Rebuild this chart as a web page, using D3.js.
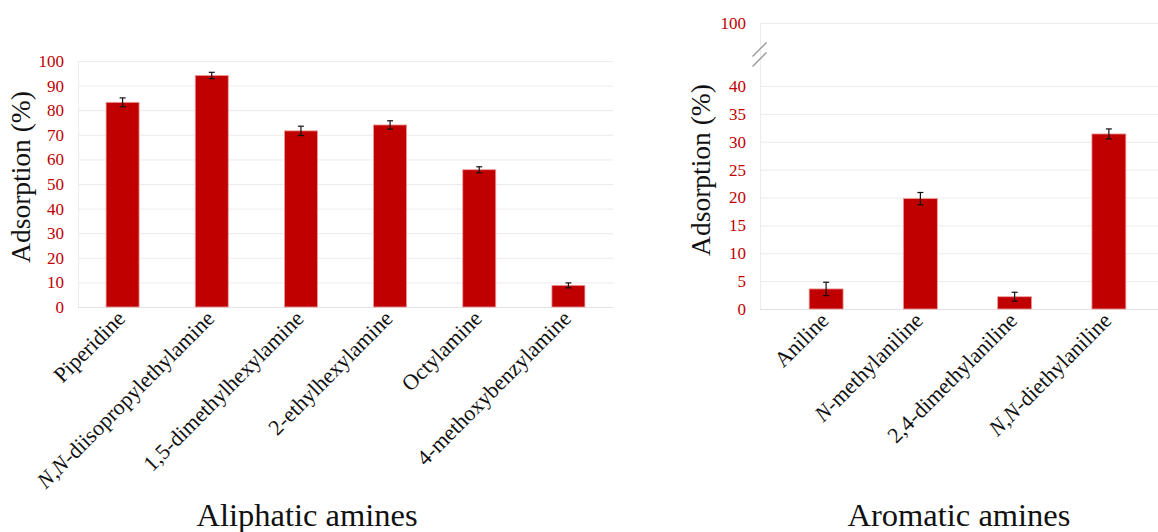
<!DOCTYPE html>
<html>
<head>
<meta charset="utf-8">
<script src="https://cdn.jsdelivr.net/npm/d3@7"></script>
<style>
  body { margin: 0; background: #fff; }
  svg { font-family: "Liberation Serif", "DejaVu Serif", serif; }
</style>
</head>
<body>
<script>
// aliphatic amines (left panel)
const aliphNames = ["Piperidine", "N,N-diisopropylethylamine", "1,5-dimethylhexylamine",
  "2-ethylhexylamine", "Octylamine", "4-methoxybenzylamine"];
const aliphValues = [83.2, 94.1, 71.6, 74.0, 55.8, 8.8];
const aliphErrors = [1.8, 1.3, 1.9, 1.7, 1.2, 1.0];
const aliphTicks = [0, 10, 20, 30, 40, 50, 60, 70, 80, 90, 100];

// aromatic amines (right panel, broken axis 40..100)
const aromNames = ["Aniline", "N-methylaniline", "2,4-dimethylaniline", "N,N-diethylaniline"];
const aromValues = [3.6, 19.8, 2.2, 31.4];
const aromErrors = [1.2, 1.1, 0.8, 0.9];
const aromTicks = [0, 5, 10, 15, 20, 25, 30, 35, 40, 100];

const W = 1158, H = 532;
const red = "#c00000", grid = "#ebebeb";

const svg = d3.select("body").append("svg")
  .attr("width", W).attr("height", H);

// label with italic N / N,N prefix
function label(sel, name) {
  const m = name.match(/^(N,N|N)(-.*)$/);
  if (m) {
    sel.append("tspan").attr("font-style", "italic").text(m[1]);
    sel.append("tspan").text(m[2]);
  } else sel.text(name);
}

function panel(o) {
  const g = svg.append("g");
  const x = d3.scaleBand().domain(o.names).range(o.xr).paddingInner(o.pi).paddingOuter(o.po);
  const y = d3.scaleLinear().domain(o.ydom).range(o.yr);

  // grid
  g.selectAll("line.grid").data(o.ticks).join("line")
    .attr("x1", o.gx[0]).attr("x2", o.gx[1])
    .attr("y1", d => y(d) + 0.5).attr("y2", d => y(d) + 0.5)
    .attr("stroke", d => d === 0 ? "#e2e2e2" : grid).attr("stroke-width", 1);
  // vertical axis line
  g.append("line")
    .attr("x1", o.gx[0] + 0.5).attr("x2", o.gx[0] + 0.5)
    .attr("y1", y(o.ydom[o.ydom.length - 1])).attr("y2", y(0))
    .attr("stroke", "#ececec");

  // tick labels
  g.selectAll("text.tick").data(o.ticks).join("text")
    .attr("x", o.gx[0] - 14).attr("y", d => y(d))
    .attr("dy", "0.35em").attr("text-anchor", "end")
    .attr("font-size", 17).attr("fill", red)
    .text(d => d);

  // bars
  g.selectAll("rect.bar").data(o.values).join("rect")
    .attr("x", (d, i) => x(o.names[i]))
    .attr("width", x.bandwidth())
    .attr("y", d => y(d))
    .attr("height", d => y(0) - y(d))
    .attr("fill", red).attr("stroke", "#ee9a9a").attr("stroke-width", 0.8);

  // error bars
  const eb = g.selectAll("g.err").data(o.values).join("g")
    .attr("transform", (d, i) => `translate(${x(o.names[i]) + x.bandwidth() / 2},0)`);
  eb.append("line").attr("y1", (d, i) => y(d + o.errors[i])).attr("y2", (d, i) => y(d - o.errors[i]))
    .attr("stroke", "#111").attr("stroke-width", 1.2);
  eb.append("line").attr("x1", -3).attr("x2", 3)
    .attr("y1", (d, i) => y(d + o.errors[i])).attr("y2", (d, i) => y(d + o.errors[i]))
    .attr("stroke", "#111").attr("stroke-width", 1.2);
  eb.append("line").attr("x1", -3).attr("x2", 3)
    .attr("y1", (d, i) => y(d - o.errors[i])).attr("y2", (d, i) => y(d - o.errors[i]))
    .attr("stroke", "#111").attr("stroke-width", 1.2);

  // category labels
  g.selectAll("text.cat").data(o.names).join("text")
    .attr("transform", d => `translate(${x(d) + x.bandwidth() / 2 - 7},${y(0) + 2}) rotate(-45)`)
    .attr("text-anchor", "end").attr("dy", "0.7em")
    .attr("font-size", 22).attr("fill", "#111")
    .each(function (d) { label(d3.select(this), d); });

  // y title
  g.append("text")
    .attr("transform", `translate(${o.ytx},${o.yty}) rotate(-90)`)
    .attr("text-anchor", "middle").attr("font-size", 27.5).attr("fill", "#111")
    .text("Adsorption (%)");

  // group title
  g.append("text")
    .attr("x", o.tx).attr("y", 526).attr("text-anchor", "middle")
    .attr("font-size", 32.5).attr("fill", "#111")
    .text(o.title);

  return y;
}

panel({
  names: aliphNames, values: aliphValues, errors: aliphErrors, ticks: aliphTicks,
  xr: [78, 613], pi: 0.63, po: 0.315, ydom: [0, 100], yr: [307, 61],
  gx: [78, 613], ytx: 30, yty: 177, tx: 307, title: "Aliphatic amines"
});

const yA = panel({
  names: aromNames, values: aromValues, errors: aromErrors, ticks: aromTicks,
  xr: [779, 1156], pi: 0.64, po: 0.32, ydom: [0, 40, 100], yr: [309, 86, 23],
  gx: [760, 1158], ytx: 710, yty: 170, tx: 959, title: "Aromatic amines"
});

// axis break marks between 40 and 100
const ym = (yA(40) + yA(100)) / 2;
[-5, 5].forEach(off => {
  svg.append("line")
    .attr("x1", 752.5).attr("x2", 766.5)
    .attr("y1", ym + off + 7).attr("y2", ym + off - 7)
    .attr("stroke", "#9a9a9a").attr("stroke-width", 1.5);
});
</script>
</body>
</html>
